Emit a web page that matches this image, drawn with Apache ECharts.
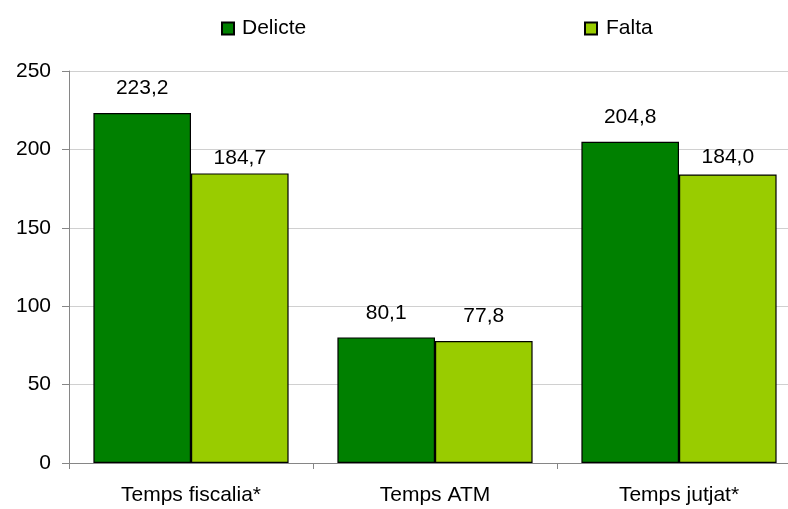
<!DOCTYPE html>
<html>
<head>
<meta charset="utf-8">
<script src="https://cdn.jsdelivr.net/npm/echarts@6/dist/echarts.min.js"></script>
<style>
html,body{margin:0;padding:0;background:#fff;overflow:hidden;width:788px;height:509px;}
#chart{width:801px;height:509px;}
</style>
</head>
<body>
<div id="chart"></div>
<script>
const categories = ['Temps fiscalia*', 'Temps ATM', 'Temps jutjat*'];
const delicte = [223.2, 80.1, 204.8];
const falta = [184.7, 77.8, 184.0];
const yTicks = [0, 50, 100, 150, 200, 250];

const FONT = '"Liberation Sans", Arial, sans-serif';
const fmt = v => v.toFixed(1).replace('.', ',');

const delicteDist = [14, 14, 14];
const faltaDist = [5, 14, 7];

function build(vals, dists) {
  return vals.map((v, i) => ({ value: v, label: { distance: dists[i] } }));
}

const chart = echarts.init(document.getElementById('chart'), null, { renderer: 'canvas' });
chart.setOption({
  animation: false,
  backgroundColor: '#ffffff',
  textStyle: { fontFamily: FONT },
  legend: [
    {
      data: ['Delicte'], left: 216, top: 13, icon: 'rect',
      itemWidth: 12, itemHeight: 12,
      textStyle: { fontFamily: FONT, fontSize: 21, color: '#000', padding: [0, 0, 0, 3] }
    },
    {
      data: ['Falta'], left: 579, top: 13, icon: 'rect',
      itemWidth: 12, itemHeight: 12,
      textStyle: { fontFamily: FONT, fontSize: 21, color: '#000', padding: [0, 0, 0, 4] }
    }
  ],
  grid: { left: 69, top: 71, width: 732, height: 392, containLabel: false },
  xAxis: {
    type: 'category',
    data: categories,
    axisLine: { lineStyle: { color: '#868686', width: 1 } },
    axisTick: { show: true, length: 6, lineStyle: { color: '#868686' } },
    axisLabel: { fontFamily: FONT, fontSize: 21, color: '#000', margin: 22 },
    splitLine: { show: false }
  },
  yAxis: {
    type: 'value',
    min: yTicks[0],
    max: yTicks[yTicks.length - 1],
    interval: 50,
    axisLine: { show: true, lineStyle: { color: '#868686', width: 1 } },
    axisTick: { show: true, length: 7, lineStyle: { color: '#868686' } },
    axisLabel: { fontFamily: FONT, fontSize: 21, color: '#000', margin: 18 },
    splitLine: { show: true, lineStyle: { color: '#d0d0d0', width: 1 } }
  },
  series: [
    {
      name: 'Delicte', type: 'bar',
      data: build(delicte, delicteDist),
      barGap: '0%', barCategoryGap: '20%',
      itemStyle: { color: '#008000', borderColor: '#000', borderWidth: 1.2 },
      label: { show: true, position: 'top', formatter: p => fmt(p.value), fontFamily: FONT, fontSize: 21, color: '#000' }
    },
    {
      name: 'Falta', type: 'bar',
      data: build(falta, faltaDist),
      barGap: '0%', barCategoryGap: '20%',
      itemStyle: { color: '#99CC00', borderColor: '#000', borderWidth: 1.2 },
      label: { show: true, position: 'top', formatter: p => fmt(p.value), fontFamily: FONT, fontSize: 21, color: '#000' }
    }
  ]
});
</script>
</body>
</html>
